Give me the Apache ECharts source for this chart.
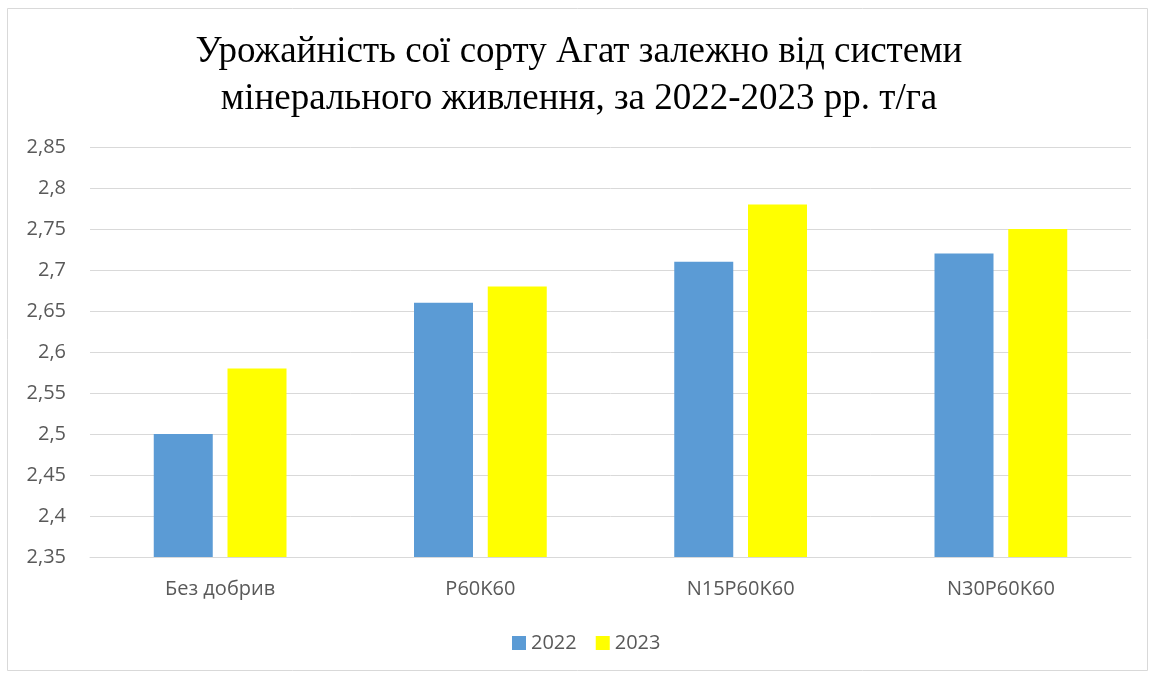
<!DOCTYPE html>
<html>
<head>
<meta charset="utf-8">
<script src="https://cdn.jsdelivr.net/npm/echarts@6/dist/echarts.min.js"></script>
<style>
html,body{margin:0;padding:0;background:#fff;}
#chart{width:1158px;height:675px;}
</style>
</head>
<body>
<div id="chart"></div>
<script>
const categories = ["Без добрив", "P60K60", "N15P60K60", "N30P60K60"];
const seriesNames = ["2022", "2023"];
const values2022 = [2.5, 2.66, 2.71, 2.72];
const values2023 = [2.58, 2.68, 2.78, 2.75];
const titleText = "Урожайність сої сорту Агат залежно від системи\nмінерального живлення, за 2022-2023 рр. т/га";

const chart = echarts.init(document.getElementById('chart'));
chart.setOption({
  backgroundColor: '#ffffff',
  animation: false,
  graphic: [{
    type: 'rect',
    shape: { x: 7.5, y: 8.5, width: 1140, height: 662 },
    style: { fill: 'none', stroke: '#d9d9d9', lineWidth: 1 },
    silent: true
  }],
  title: {
    text: titleText,
    left: 'center',
    top: 24,
    textStyle: {
      fontFamily: 'Liberation Serif',
      fontSize: 37,
      fontWeight: 'normal',
      color: '#000000',
      lineHeight: 47
    }
  },
  legend: {
    data: seriesNames,
    left: 507,
    top: 628,
    itemWidth: 14,
    itemHeight: 14,
    itemGap: 19,
    icon: 'rect',
    textStyle: { fontFamily: 'Open Sans', fontSize: 20, color: '#595959' }
  },
  grid: { left: 90, right: 27, top: 147, bottom: 118, containLabel: false },
  xAxis: {
    type: 'category',
    data: categories,
    axisLine: { show: true, lineStyle: { color: '#d9d9d9', width: 1 } },
    axisTick: { show: false },
    axisLabel: { fontFamily: 'Open Sans', fontSize: 20, color: '#595959', margin: 22 }
  },
  yAxis: {
    type: 'value',
    min: 2.35,
    max: 2.85,
    interval: 0.05,
    axisLine: { show: false },
    axisTick: { show: false },
    splitLine: { lineStyle: { color: '#d9d9d9', width: 1 } },
    axisLabel: {
      fontFamily: 'Open Sans', fontSize: 20, color: '#595959', margin: 24,
      formatter: v => String(Math.round(v * 100) / 100).replace('.', ',')
    }
  },
  series: [
    { name: seriesNames[0], type: 'bar', data: values2022, barWidth: 59, barGap: '25%', itemStyle: { color: '#5b9bd5' } },
    { name: seriesNames[1], type: 'bar', data: values2023, barWidth: 59, barGap: '25%', itemStyle: { color: '#ffff00' } }
  ]
});
</script>
</body>
</html>
